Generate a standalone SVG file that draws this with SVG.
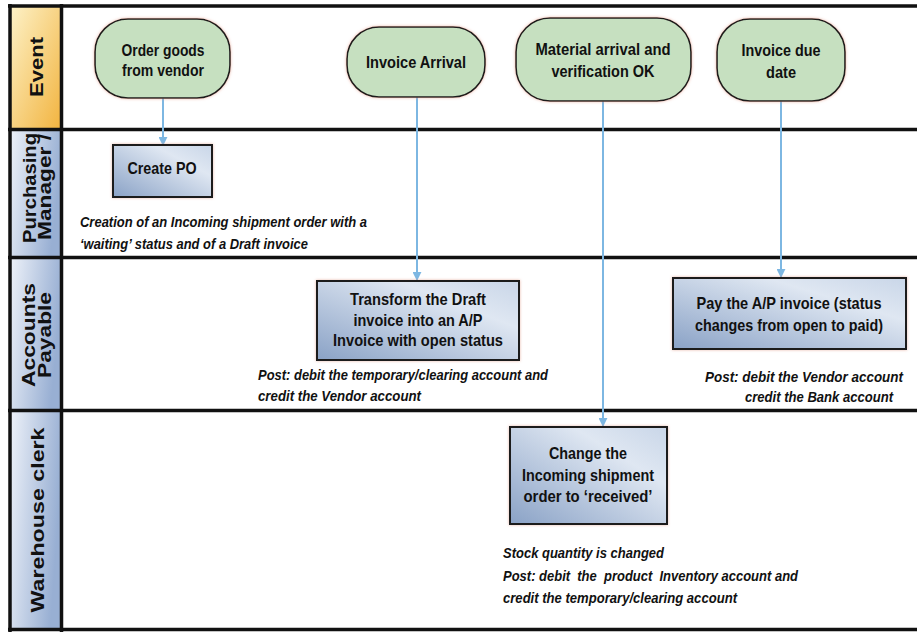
<svg xmlns="http://www.w3.org/2000/svg" width="917" height="634" viewBox="0 0 917 634">
<defs>
<linearGradient id="gEvent" x1="0" y1="0" x2="1" y2="1">
<stop offset="0" stop-color="#fdf2c8"/><stop offset="1" stop-color="#f2b440"/>
</linearGradient>
<linearGradient id="gHead" x1="0" y1="0" x2="1" y2="0.3">
<stop offset="0" stop-color="#eef2f9"/><stop offset="1" stop-color="#98afd3"/>
</linearGradient>
<linearGradient id="gBox" x1="0" y1="1" x2="1" y2="0">
<stop offset="0" stop-color="#8aa2c6"/><stop offset="0.7" stop-color="#dfe7f2"/><stop offset="1" stop-color="#c9d6e8"/>
</linearGradient>
<filter id="glow" x="-10%" y="-10%" width="120%" height="120%">
<feDropShadow dx="0" dy="0" stdDeviation="1.5" flood-color="#e29a88" flood-opacity="0.7"/>
</filter>
<marker id="arr" viewBox="0 0 10 10" refX="9" refY="5" markerWidth="4.5" markerHeight="4.5" orient="auto">
<path d="M0,0 L10,5 L0,10 z" fill="#7db7e2"/>
</marker>
<style>
.lane{stroke:#111;stroke-width:3.5;fill:none}
.pill{fill:#c6e0c0;stroke:#1c1c1c;stroke-width:1.6;filter:url(#glow)}
.box{fill:url(#gBox);stroke:#1c1c1c;stroke-width:2;filter:url(#glow)}
.t{font-family:"Liberation Sans",Arial,sans-serif;font-weight:bold;font-size:17px;fill:#111;text-anchor:middle}
.n{font-family:"Liberation Sans",Arial,sans-serif;font-weight:bold;font-style:italic;font-size:14px;fill:#111;white-space:pre}
.h{font-family:"Liberation Sans",Arial,sans-serif;font-weight:bold;font-size:19px;fill:#111;text-anchor:middle;dominant-baseline:central}
.c{stroke:#7db7e2;stroke-width:2;fill:none;marker-end:url(#arr)}
</style>
</defs>
<rect width="917" height="634" fill="#fff"/>

<g id="headers">
<rect x="10" y="6" width="51" height="123" fill="url(#gEvent)"/>
<rect x="10" y="130" width="51" height="127" fill="url(#gHead)"/>
<rect x="10" y="258" width="51" height="152" fill="url(#gHead)"/>
<rect x="10" y="411" width="51" height="218" fill="url(#gHead)"/>
<text class="h" transform="translate(36,67) rotate(-90)" textLength="60" lengthAdjust="spacingAndGlyphs">Event</text>
<text class="h" transform="translate(29,188) rotate(-90)" textLength="110" lengthAdjust="spacingAndGlyphs">Purchasing</text>
<text class="h" transform="translate(44,187) rotate(-90)" textLength="106" lengthAdjust="spacingAndGlyphs">Manager /</text>
<text class="h" transform="translate(28,335) rotate(-90)" textLength="104" lengthAdjust="spacingAndGlyphs">Accounts</text>
<text class="h" transform="translate(44,335) rotate(-90)" textLength="86" lengthAdjust="spacingAndGlyphs">Payable</text>
<text class="h" transform="translate(37,520) rotate(-90)" textLength="185" lengthAdjust="spacingAndGlyphs">Warehouse clerk</text>
</g>

<g id="lanes">
<line class="lane" x1="8" y1="6" x2="917" y2="6"/>
<line class="lane" x1="8" y1="129.5" x2="917" y2="129.5"/>
<line class="lane" x1="8" y1="257.5" x2="917" y2="257.5"/>
<line class="lane" x1="8" y1="410.5" x2="917" y2="410.5"/>
<line class="lane" x1="8" y1="629.5" x2="917" y2="629.5"/>
<line class="lane" x1="10" y1="4" x2="10" y2="632"/>
<line class="lane" x1="61.5" y1="4" x2="61.5" y2="632"/>
</g>

<g id="connectors">
<line class="c" x1="163" y1="98" x2="163" y2="145"/>
<line class="c" x1="417" y1="97" x2="417" y2="280"/>
<line class="c" x1="603" y1="101" x2="603" y2="426"/>
<line class="c" x1="781" y1="101" x2="781" y2="277"/>
</g>

<g id="ev1">
<rect class="pill" x="95" y="19" width="135" height="79" rx="33" ry="33"/>
<text class="t" x="163" y="56" textLength="83" lengthAdjust="spacingAndGlyphs">Order goods</text>
<text class="t" x="163" y="76" textLength="82" lengthAdjust="spacingAndGlyphs">from vendor</text>
</g>
<g id="ev2">
<rect class="pill" x="347" y="27" width="138" height="70" rx="32" ry="32"/>
<text class="t" x="416" y="68" textLength="100" lengthAdjust="spacingAndGlyphs">Invoice Arrival</text>
</g>
<g id="ev3">
<rect class="pill" x="516" y="18" width="175" height="83" rx="34" ry="34"/>
<text class="t" x="603" y="55" textLength="135" lengthAdjust="spacingAndGlyphs">Material arrival and</text>
<text class="t" x="603" y="77" textLength="103" lengthAdjust="spacingAndGlyphs">verification OK</text>
</g>
<g id="ev4">
<rect class="pill" x="717" y="19" width="128" height="82" rx="33" ry="33"/>
<text class="t" x="781" y="56" textLength="79" lengthAdjust="spacingAndGlyphs">Invoice due</text>
<text class="t" x="781" y="78" textLength="30" lengthAdjust="spacingAndGlyphs">date</text>
</g>

<g id="createPO">
<rect class="box" x="113" y="145" width="99" height="52"/>
<text class="t" x="162" y="174" textLength="69" lengthAdjust="spacingAndGlyphs">Create PO</text>
<text class="n" x="80" y="227" textLength="287" lengthAdjust="spacingAndGlyphs">Creation of an Incoming shipment order with a</text>
<text class="n" x="80" y="249" textLength="228" lengthAdjust="spacingAndGlyphs">‘waiting’ status and of a Draft invoice</text>
</g>

<g id="transform">
<rect class="box" x="317" y="281" width="202" height="79"/>
<text class="t" x="418" y="305" textLength="136" lengthAdjust="spacingAndGlyphs">Transform the Draft</text>
<text class="t" x="418" y="326" textLength="129" lengthAdjust="spacingAndGlyphs">invoice into an A/P</text>
<text class="t" x="418" y="346" textLength="170" lengthAdjust="spacingAndGlyphs">Invoice with open status</text>
<text class="n" x="258" y="380" textLength="290" lengthAdjust="spacingAndGlyphs">Post: debit the temporary/clearing account and</text>
<text class="n" x="258" y="401" textLength="163" lengthAdjust="spacingAndGlyphs">credit the Vendor account</text>
</g>

<g id="pay">
<rect class="box" x="673" y="278" width="233" height="71"/>
<text class="t" x="789" y="309" textLength="185" lengthAdjust="spacingAndGlyphs">Pay the A/P invoice (status</text>
<text class="t" x="789" y="331" textLength="188" lengthAdjust="spacingAndGlyphs">changes from open to paid)</text>
<text class="n" x="705" y="382" textLength="198" lengthAdjust="spacingAndGlyphs">Post: debit the Vendor account</text>
<text class="n" x="745" y="402" textLength="148" lengthAdjust="spacingAndGlyphs">credit the Bank account</text>
</g>

<g id="change">
<rect class="box" x="510" y="427" width="157" height="97"/>
<text class="t" x="588" y="459" textLength="78" lengthAdjust="spacingAndGlyphs">Change the</text>
<text class="t" x="588" y="481" textLength="132" lengthAdjust="spacingAndGlyphs">Incoming shipment</text>
<text class="t" x="588" y="502" textLength="129" lengthAdjust="spacingAndGlyphs">order  to ‘received’</text>
<text class="n" x="503" y="558" textLength="161" lengthAdjust="spacingAndGlyphs">Stock quantity is changed</text>
<text class="n" x="503" y="581" textLength="295" lengthAdjust="spacingAndGlyphs">Post: debit  the  product  Inventory account and</text>
<text class="n" x="503" y="603" textLength="234" lengthAdjust="spacingAndGlyphs">credit the temporary/clearing account</text>
</g>
</svg>
